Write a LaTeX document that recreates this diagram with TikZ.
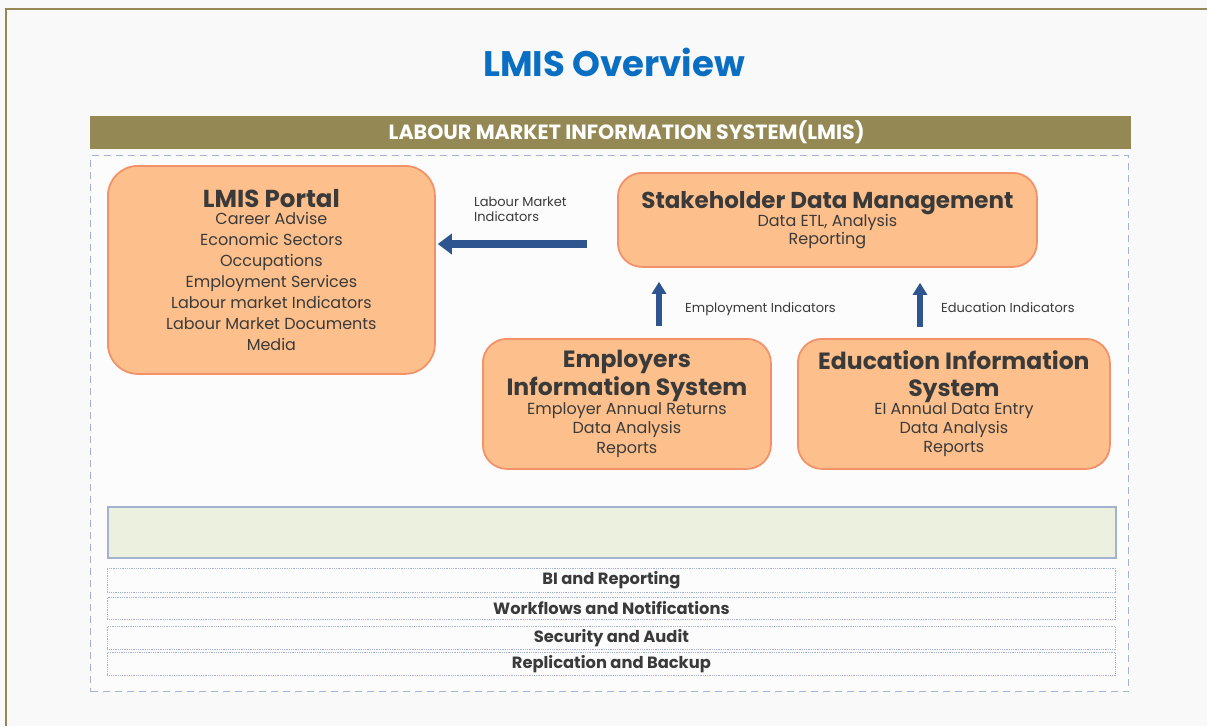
\documentclass[tikz,border=0pt]{standalone}
\usepackage{fontspec}
\setmainfont{Poppins}
\usetikzlibrary{arrows.meta}
\definecolor{olive}{HTML}{948954}
\definecolor{ttlblue}{HTML}{0A6FC2}
\definecolor{boxfill}{HTML}{FDC08C}
\definecolor{boxline}{HTML}{F3916A}
\definecolor{arrowblue}{HTML}{2F5590}
\definecolor{inktext}{HTML}{3A3A3A}
\definecolor{dashblue}{HTML}{A3B2D0}
\definecolor{greenfill}{HTML}{EBF0DF}
% bold heading line inside a system box
\newcommand{\boxhead}[1]{{\bfseries\fontsize{23.5}{26}\selectfont #1}}
\tikzset{
  sysbox/.style={draw=boxline, line width=1.8pt, fill=boxfill, rounded corners=24pt,
    anchor=north west, align=center, text=inktext, inner sep=0pt},
  layerbox/.style={draw=dashblue, densely dotted, line width=0.8pt, anchor=north west,
    minimum width=1008pt, inner sep=0pt, text=inktext,
    font=\bfseries\fontsize{16.3}{18}\selectfont},
  bigarrow/.style={draw=arrowblue, line width=8pt, -{Triangle[width=20pt,length=14pt]}},
  uparrow/.style={draw=arrowblue, line width=5.5pt, -{Triangle[width=14pt,length=12pt]}},
  flowlabel/.style={text=inktext, font=\fontsize{13}{15}\selectfont, inner sep=0pt},
}
\begin{document}
\begin{tikzpicture}[x=1pt,y=-1pt]
\useasboundingbox (0,0) rectangle (1207,726);
\fill[white!97.5!black] (0,0) rectangle (1207,726);
\draw[olive, line width=2.2pt] (6,726) -- (6,9) -- (1207,9);

% heading
\node[text=ttlblue, font=\bfseries\fontsize{35.5}{40}\selectfont] (title) at (614,62) {LMIS Overview};

% system banner and frame
\node[fill=olive, anchor=north west, minimum width=1041pt, minimum height=33pt, inner sep=0pt,
  text=white, font=\bfseries\fontsize{20.6}{23}\selectfont] (banner) at (90,116)
  {\hspace*{32pt}LABOUR MARKET INFORMATION SYSTEM(LMIS)};
\node[draw=dashblue, fill=white!99!black, dash pattern=on 7pt off 5pt, line width=1.2pt, anchor=north west,
  minimum width=1038pt, minimum height=536pt, inner sep=0pt] (frame) at (90,155) {};

% systems
\node[sysbox, rounded corners=30pt, minimum width=327pt, minimum height=208pt,
  font=\fontsize{16}{21}\selectfont] (portal) at (107,165)
 {{\bfseries\fontsize{24.5}{26}\selectfont LMIS Portal}\\[-3.5pt]
  Career Advise\\ Economic Sectors\\ Occupations\\ Employment Services\\
  Labour market Indicators\\ Labour Market Documents\\ Media};
\node[sysbox, minimum width=419pt, minimum height=94pt,
  font=\fontsize{16}{19.5}\selectfont] (sdm) at (617,172)
 {{\bfseries\fontsize{23}{26}\selectfont Stakeholder Data Management}\\[-2pt]
  Data ETL, Analysis\\[-1.5pt] Reporting};
\node[sysbox, minimum width=288pt, minimum height=130pt,
  font=\fontsize{16}{19.5}\selectfont] (emp) at (482,338)
 {\boxhead{Employers}\\[1.5pt] \boxhead{Information System}\\[-1pt]
  Employer Annual Returns\\ Data Analysis\\ Reports};
\node[sysbox, minimum width=312pt, minimum height=130pt,
  font=\fontsize{16}{19}\selectfont] (edu) at (797,338)
 {\boxhead{Education Information}\\[8pt] \boxhead{System}\\[-1pt]
  EI Annual Data Entry\\ Data Analysis\\ Reports};

% data flows
\coordinate (lmirow) at (0,244);
\draw[bigarrow, shorten <=30pt, shorten >=2pt] (sdm.west |- lmirow) -- (portal.east |- lmirow);
\node[flowlabel, align=left, anchor=north west] (lmilbl) at (474,197) {Labour Market\\ Indicators};
\coordinate (empcol) at (659,0);
\coordinate (educol) at (920,0);
\draw[uparrow, shorten <=12pt, shorten >=14pt] (emp.north -| empcol) -- (sdm.south -| empcol);
\draw[uparrow, shorten <=11pt, shorten >=15pt] (edu.north -| educol) -- (sdm.south -| educol);
\node[flowlabel, anchor=west] (emplbl) at (685,309) {Employment Indicators};
\node[flowlabel, anchor=west] (edulbl) at (941,308) {Education Indicators};

% platform layers
\node[draw=dashblue, line width=1.5pt, fill=greenfill, anchor=north west,
  minimum width=1008pt, minimum height=51pt, inner sep=0pt] (platform) at (107,506) {};
\node[layerbox, minimum height=24pt] (bi) at (107,567.5) {BI and Reporting};
\node[layerbox, minimum height=22.5pt] (wf) at (107,596.5) {Workflows and Notifications};
\node[layerbox, minimum height=23pt] (sec) at (107,626) {Security and Audit};
\node[layerbox, minimum height=23pt] (rep) at (107,652) {Replication and Backup};
\end{tikzpicture}
\end{document}
